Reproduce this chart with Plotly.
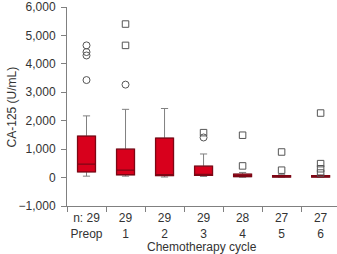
import plotly.graph_objects as go

# ---- data ----
cycles = ["Preop", "1", "2", "3", "4", "5", "6"]
n_counts = [29, 29, 29, 29, 28, 27, 27]
q1_vals = [200, 100, 70, 80, 30, 20, 20]
median_vals = [470, 260, 100, 95, 70, 40, 40]
q3_vals = [1460, 1000, 1390, 400, 120, 70, 70]
lower_vals = [50, 50, 20, 40, 10, 10, 10]
upper_vals = [2170, 2400, 2430, 830, 180, 100, 100]

# outliers: (category index, value)
circle_x = [0, 0, 0, 0, 1, 3]
circle_y = [4650, 4415, 4295, 3430, 3270, 1410]
square_x = [1, 1, 3, 4, 4, 5, 5, 6, 6, 6, 6]
square_y = [5400, 4650, 1580, 1490, 410, 900, 260, 2270, 490, 310, 160]

x_title = "Chemotherapy cycle"
y_title = "CA-125 (U/mL)"

tick_text = [("n: %d" % n if i == 0 else "%d" % n) + "<br>" + c
             for i, (n, c) in enumerate(zip(n_counts, cycles))]
xpos = list(range(len(cycles)))

FONT = "Liberation Sans, Arial, sans-serif"
RED = "#d8001c"
DARK = "#7e0614"
GRAY = "#808080"

fig = go.Figure()

# whiskers (gray)
fig.add_trace(go.Box(
    x=xpos, q1=q1_vals, median=median_vals, q3=q3_vals,
    lowerfence=lower_vals, upperfence=upper_vals,
    width=0.46, whiskerwidth=0.4, boxpoints=False,
    line=dict(color=GRAY, width=1), fillcolor="rgba(0,0,0,0)",
    hoverinfo="skip", showlegend=False))

# red boxes on top
fig.add_trace(go.Box(
    x=xpos, q1=q1_vals, median=median_vals, q3=q3_vals,
    lowerfence=q1_vals, upperfence=q3_vals,
    width=0.46, whiskerwidth=0, boxpoints=False,
    line=dict(color=DARK, width=1.3), fillcolor=RED,
    showlegend=False))

fig.add_trace(go.Scatter(
    x=circle_x, y=circle_y, mode="markers",
    marker=dict(symbol="circle-open", size=7, color="#555555", line=dict(width=1)),
    showlegend=False))
fig.add_trace(go.Scatter(
    x=square_x, y=square_y, mode="markers",
    marker=dict(symbol="square-open", size=6.5, color="#555555", line=dict(width=1)),
    showlegend=False))

fig.update_layout(
    width=337, height=254,
    margin=dict(l=67, r=0, t=7, b=48),
    plot_bgcolor="white", paper_bgcolor="white",
    font=dict(family=FONT, size=12, color="#333333"),
    showlegend=False,
    boxmode="overlay",
    annotations=[
        dict(text=x_title, xref="paper", yref="paper", x=0.5, y=-0.206,
             xanchor="center", yanchor="middle", showarrow=False,
             font=dict(size=12)),
        dict(text=y_title, xref="paper", yref="paper", x=-0.204, y=0.5,
             xanchor="center", yanchor="middle", textangle=-90, showarrow=False,
             font=dict(size=12)),
    ],
)
fig.update_xaxes(
    range=[-0.5, 6.42], tickmode="array", tickvals=xpos, ticktext=tick_text,
    ticks="", showline=True, linecolor=GRAY, linewidth=1, showgrid=False,
    zeroline=False, ticklabelstandoff=1, automargin=False,
    minor=dict(ticks="outside", ticklen=5, tickcolor=GRAY, tick0=0.5, dtick=1, showgrid=False),
)
fig.update_yaxes(
    range=[-1000, 6000], tickmode="linear", tick0=-1000, dtick=1000,
    tickformat=",d", ticks="outside", ticklen=5, tickcolor=GRAY,
    showline=True, linecolor=GRAY, linewidth=1, showgrid=False, zeroline=False,
    ticklabelstandoff=3, automargin=False,
)

fig.write_html("out.html")
